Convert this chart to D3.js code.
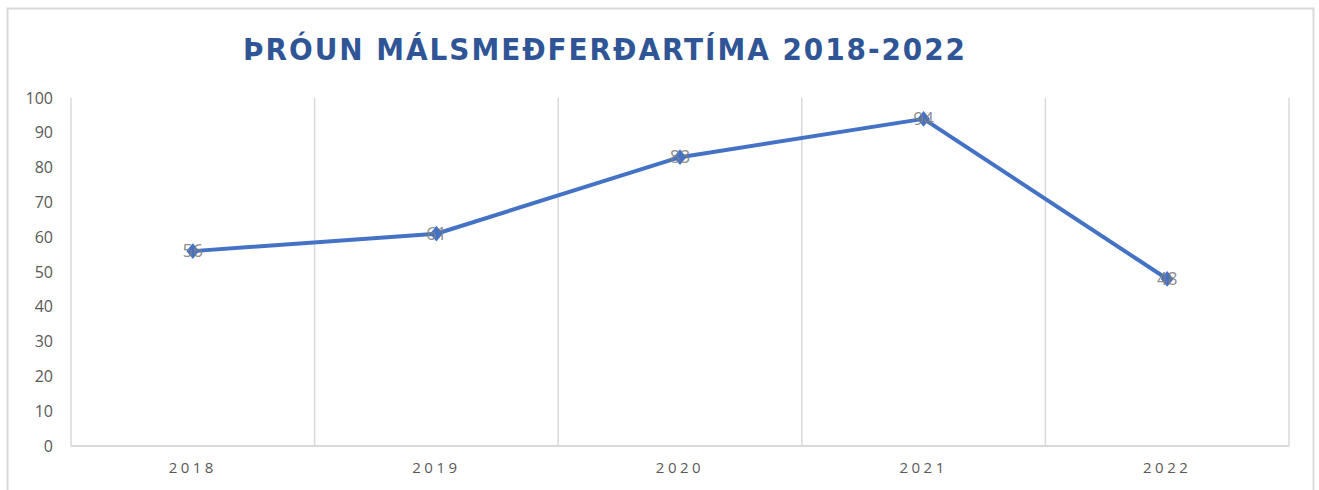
<!DOCTYPE html>
<html>
<head>
<meta charset="utf-8">
<script src="https://cdn.jsdelivr.net/npm/d3@7"></script>
<style>
  body { margin: 0; background: #fff; }
  text { font-family: "Open Sans", "Liberation Sans", sans-serif; }
</style>
</head>
<body>
<div id="chart"></div>
<script>
const years = ['2018', '2019', '2020', '2021', '2022'];
const days = [56, 61, 83, 94, 48];
const yTicks = [0, 10, 20, 30, 40, 50, 60, 70, 80, 90, 100];
const title = 'ÞRÓUN MÁLSMEÐFERÐARTÍMA 2018-2022';

const width = 1319, height = 490;
const margin = {left: 71, right: 30, top: 98, bottom: 44};

const svg = d3.select('#chart').append('svg')
  .attr('width', width)
  .attr('height', height);

// outer frame
svg.append('rect')
  .attr('x', 7.5).attr('y', 8.5)
  .attr('width', 1306).attr('height', 500)
  .attr('fill', 'none')
  .attr('stroke', '#d9d9d9')
  .attr('stroke-width', 2);

svg.append('text')
  .attr('x', 243).attr('y', 60)
  .attr('textLength', 722)
  .attr('lengthAdjust', 'spacing')
  .attr('fill', '#2f5597')
  .style('font-family', '"DejaVu Sans Condensed", "DejaVu Sans", sans-serif')
  .style('font-size', '31px')
  .style('font-weight', 'bold')
  .text(title);

const x = d3.scaleBand()
  .domain(years)
  .range([margin.left, width - margin.right]);

const y = d3.scaleLinear()
  .domain([0, 100])
  .range([height - margin.bottom, margin.top]);

// vertical gridlines on category boundaries
const edges = years.map(d => x(d)).concat([x.range()[1]]);
svg.append('g').selectAll('line')
  .data(edges)
  .enter().append('line')
  .attr('x1', d => d).attr('x2', d => d)
  .attr('y1', y(100)).attr('y2', y(0))
  .attr('stroke', '#d9d9d9')
  .attr('stroke-width', 1.5);

// bottom axis line
svg.append('line')
  .attr('x1', x.range()[0]).attr('x2', x.range()[1])
  .attr('y1', y(0)).attr('y2', y(0))
  .attr('stroke', '#d9d9d9')
  .attr('stroke-width', 2);

const yAxis = d3.axisLeft(y).tickValues(yTicks).tickSize(0).tickPadding(18);
svg.append('g')
  .attr('transform', `translate(${margin.left},0)`)
  .call(yAxis)
  .call(g => g.select('.domain').remove())
  .selectAll('text')
  .attr('fill', '#595959')
  .style('font-size', '16px')
  .style('font-family', '"Open Sans", sans-serif');

const xAxis = d3.axisBottom(x).tickSize(0).tickPadding(16);
svg.append('g')
  .attr('transform', `translate(0,${y(0)})`)
  .call(xAxis)
  .call(g => g.select('.domain').remove())
  .selectAll('text')
  .attr('fill', '#595959')
  .style('font-size', '15px')
  .style('letter-spacing', '3.5px')
  .style('font-family', '"Open Sans", sans-serif');

const line = d3.line()
  .x((d, i) => x(years[i]) + x.bandwidth() / 2)
  .y(d => y(d));

svg.append('path')
  .datum(days)
  .attr('d', line)
  .attr('fill', 'none')
  .attr('stroke', '#4472c4')
  .attr('stroke-width', 4)
  .attr('stroke-linejoin', 'round');

svg.append('g').selectAll('path')
  .data(days)
  .enter().append('path')
  .attr('d', d3.symbol().type(d3.symbolDiamond2).size(130))
  .attr('transform', (d, i) => `translate(${x(years[i]) + x.bandwidth() / 2},${y(d)}) scale(0.9,1.1)`)
  .attr('fill', '#4472c4');

svg.append('g').selectAll('text')
  .data(days)
  .enter().append('text')
  .attr('x', (d, i) => x(years[i]) + x.bandwidth() / 2)
  .attr('y', d => y(d) + 6)
  .attr('text-anchor', 'middle')
  .attr('fill', '#7f7f7f')
  .attr('fill-opacity', 0.9)
  .style('font-size', '18px')
  .text(d => d);
</script>
</body>
</html>
